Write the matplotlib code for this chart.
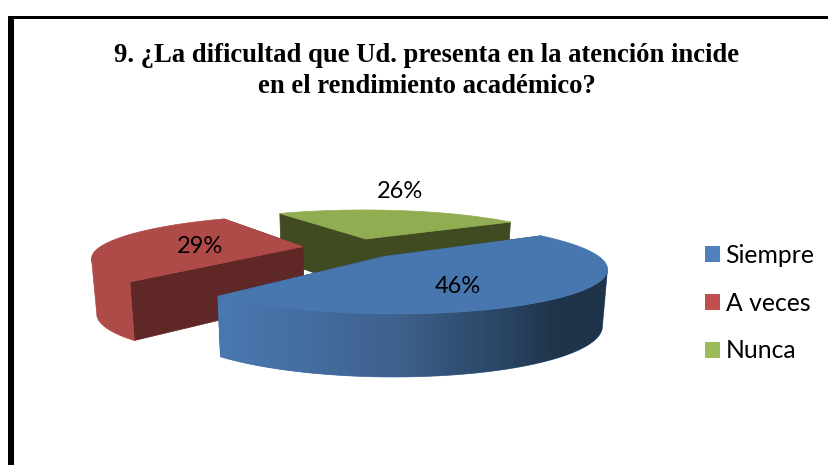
import numpy as np
import matplotlib
matplotlib.use("Agg")
import matplotlib.pyplot as plt
from matplotlib.colors import LinearSegmentedColormap
from matplotlib.patches import Patch, Polygon, Rectangle

title_lines = ["9. ¿La dificultad que Ud. presenta en la atención incide",
               "en el rendimiento académico?"]
categories = ["Siempre", "A veces", "Nunca"]
counts = [16, 10, 9]
legend_colors = ["#4f81bd", "#c0504d", "#9bbb59"]
top_colors = ["#4877b0", "#ae4b49", "#91ad52"]
cut_colors = ["#1f3349", "#5f2726", "#414b22"]
label_pos = [(458, 286), (200, 246), (400, 191)]

# projection of the tilted pie, in image pixels
CX, CY = 353, 248
R, RY = 204, 39.5
P = 0.233
H = 53.5
EXPLODE = 0.25
START = 28.5
WARP = np.radians(4.5)


def project(x, y, low=False):
    w = 1 + P * y
    px = CX + R * x / w
    py = CY - RY * y / w
    if low:
        px = CX + (px - CX) * 0.98
        py = py + H / np.sqrt(w)
    return px, py


def warp(a):
    # the 3d rotation squeezes the angles a little on two quadrants
    return a + WARP * np.maximum(0, np.sin(2 * a))


fig = plt.figure(figsize=(8.29, 4.65), dpi=100)
ax = fig.add_axes([0, 0, 1, 1])

# frame of the pasted picture
ax.add_patch(Rectangle((8, 16), 821, 3.5, color="black", lw=0))
ax.add_patch(Rectangle((8, 16), 6, 449, color="black", lw=0))

blue_wall = LinearSegmentedColormap.from_list(
    "blue_wall", [(0, "#4a79b2"), (0.45, "#3f628f"), (0.72, "#2b4666"), (0.88, "#1f3349"), (1, "#1f3349")])

shares = np.array(counts) / sum(counts)
ends = START - np.cumsum(shares) * 360
starts = np.concatenate([[START], ends[:-1]])

# painter's order: far slices first
for i in [2, 1, 0]:
    a1, a2 = np.radians(starts[i]), np.radians(ends[i])
    mid = (a1 + a2) / 2
    ox, oy = EXPLODE * np.cos(mid), EXPLODE * np.sin(mid)

    # the two cut faces
    for a in (a1, a2):
        ex, ey = ox + np.cos(warp(a)), oy + np.sin(warp(a))
        quad = [project(ox, oy), project(ex, ey), project(ex, ey, True), project(ox, oy, True)]
        ax.add_patch(Polygon(quad, closed=True, fc=cut_colors[i], ec=cut_colors[i], lw=0.5))

    # outer wall, only the part facing the viewer, cut at the silhouette
    t = warp(np.linspace(a1, a2, 160))
    xs, ys = ox + np.cos(t), oy + np.sin(t)
    if i < 2:
        upper = np.array([project(a, b) for a, b in zip(xs, ys)])
        lower = np.array([project(a, b, True) for a, b in zip(xs, ys)])
        if i == 0:
            k = np.argmax(upper[:, 0])
            upper, lower = upper[k:], lower[k:]
        else:
            k = np.argmin(upper[:, 0])
            upper, lower = upper[:k + 1], lower[:k + 1]
        wall = Polygon(np.vstack([upper, lower[::-1]]), closed=True, fc=top_colors[i], ec=top_colors[i], lw=0.5)
        ax.add_patch(wall)
        if i == 0:
            img = ax.imshow(np.linspace(0, 1, 256)[None, :], cmap=blue_wall, extent=(215, 608, 400, 230),
                            aspect="auto", zorder=wall.get_zorder())
            img.set_clip_path(wall)

    # top surface
    top = [project(ox, oy)] + [project(a, b) for a, b in zip(xs, ys)]
    ax.add_patch(Polygon(top, closed=True, fc=top_colors[i], ec=top_colors[i], lw=0.5, zorder=2))

ax.set_xlim(0, 829)
ax.set_ylim(465, 0)
ax.axis("off")

for y, line in zip([62, 93], title_lines):
    ax.text(427, y, line, family="Liberation Serif", weight="bold", fontsize=19.2,
            ha="center", va="baseline", color="black")

for (x, y), share in zip(label_pos, shares):
    ax.text(x, y, f"{share * 100:.0f}%", family="Lato", fontsize=17, ha="center", va="center", color="black")

handles = [Patch(fc=c, ec="none", label=n) for c, n in zip(legend_colors, categories)]
ax.legend(handles=handles, loc="upper left", bbox_to_anchor=(705, 244), bbox_transform=ax.transData,
          frameon=False, prop={"family": "Lato", "size": 17.8}, handlelength=0.61, handleheight=0.61,
          handletextpad=0.22, labelspacing=1.0, borderpad=0, borderaxespad=0)

fig.savefig("out.png", dpi=100)
